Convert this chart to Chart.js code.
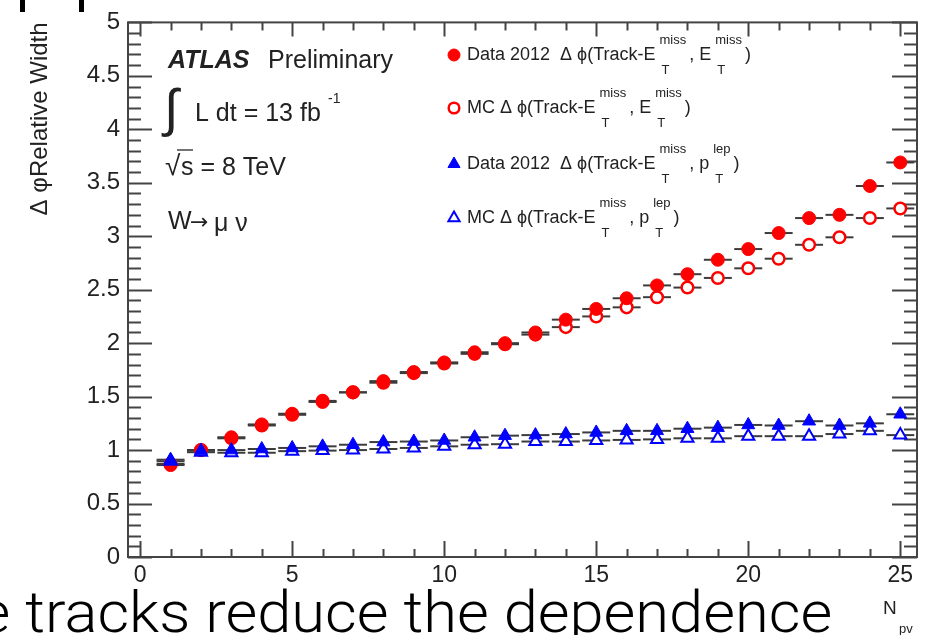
<!DOCTYPE html>
<html>
<head>
<meta charset="utf-8">
<script src="https://cdn.jsdelivr.net/npm/chart.js@4.4.1/dist/chart.umd.min.js"></script>
<style>
  html, body { margin: 0; padding: 0; background: #fff; overflow: hidden; }
  #wrap { position: relative; width: 938px; height: 635px; overflow: hidden; }
  #chart { position: absolute; left: 0; top: 0; }
  .frag { position: absolute; top: 0; width: 5px; height: 12px; background: #000; }
  #caption {
    position: absolute; right: 106px; top: 583px;
    font-family: "Roboto", "Liberation Sans", sans-serif; font-weight: 300;
    font-size: 58px; line-height: 58px; white-space: nowrap; color: #000;
    transform-origin: right center;
  }
</style>
</head>
<body>
<div id="wrap">
  <canvas id="chart" width="938" height="635"></canvas>
  <div class="frag" style="left:20px"></div>
  <div class="frag" style="left:79px"></div>
  <div id="caption">e <span id="capMain">tracks reduce the dependence</span></div>
</div>
<script>
// number of primary vertices (bin centres)
const nPV = [1, 2, 3, 4, 5, 6, 7, 8, 9, 10, 11, 12, 13, 14, 15, 16, 17, 18, 19, 20, 21, 22, 23, 24, 25];

// relative width of delta-phi
const dataMet = [0.86, 1.00, 1.12, 1.24, 1.34, 1.45, 1.54, 1.645, 1.73, 1.82, 1.915, 2.00, 2.10,
                 2.22, 2.32, 2.42, 2.54, 2.645, 2.78, 2.88, 3.03, 3.17, 3.20, 3.47, 3.69];
const mcMet   = [0.87, 1.00, 1.11, 1.23, 1.33, 1.46, 1.54, 1.63, 1.72, 1.81, 1.90, 1.99, 2.08,
                 2.15, 2.25, 2.335, 2.43, 2.52, 2.61, 2.70, 2.79, 2.92, 2.99, 3.17, 3.26];
const dataLep = [0.91, 0.995, 1.00, 1.01, 1.02, 1.035, 1.05, 1.075, 1.08, 1.09, 1.12, 1.135, 1.14,
                 1.15, 1.165, 1.18, 1.18, 1.20, 1.21, 1.235, 1.23, 1.27, 1.23, 1.25, 1.335];
const mcLep   = [0.895, 0.98, 0.975, 0.975, 0.99, 0.995, 1.00, 1.01, 1.02, 1.035, 1.05, 1.055, 1.08,
                 1.08, 1.09, 1.095, 1.10, 1.11, 1.11, 1.13, 1.13, 1.13, 1.15, 1.18, 1.14];

const xTicks = [0, 5, 10, 15, 20, 25];
const binHalf = 0.46;

const pts = arr => nPV.map((x, i) => ({ x: x, y: arr[i] }));

const legendRows = [
  { ds: 0, parts: ['Data 2012  \u0394 \u03d5(Track-E', { sup: 'miss', sub: 'T' }, ', E', { sup: 'miss', sub: 'T' }, ')'] },
  { ds: 1, parts: ['MC \u0394 \u03d5(Track-E', { sup: 'miss', sub: 'T' }, ', E', { sup: 'miss', sub: 'T' }, ')'] },
  { ds: 2, parts: ['Data 2012  \u0394 \u03d5(Track-E', { sup: 'miss', sub: 'T' }, ', p', { sup: 'lep', sub: 'T' }, ')'] },
  { ds: 3, parts: ['MC \u0394 \u03d5(Track-E', { sup: 'miss', sub: 'T' }, ', p', { sup: 'lep', sub: 'T' }, ')'] }
];
const legendY = [55, 108, 164, 218];

const FONT = '"Liberation Sans", Arial, sans-serif';
const INK = '#222';

function richText(ctx, x, y, parts, size) {
  ctx.textBaseline = 'middle';
  ctx.textAlign = 'left';
  for (const p of parts) {
    if (typeof p === 'string') {
      ctx.font = size + 'px ' + FONT;
      ctx.fillText(p, x, y);
      x += ctx.measureText(p).width;
    } else {
      ctx.font = '13px ' + FONT;
      ctx.fillText(p.sup, x + 4, y - 15);
      const w1 = ctx.measureText(p.sup).width + 4;
      ctx.fillText(p.sub, x + 6, y + 15);
      const w2 = ctx.measureText(p.sub).width + 6;
      x += Math.max(w1, w2) + 3;
    }
  }
}

// horizontal bin-width error bars, under the markers
const errorBars = {
  id: 'errorBars',
  beforeDatasetsDraw(chart) {
    const { ctx, scales: { x, y } } = chart;
    ctx.save();
    ctx.strokeStyle = '#3c3c3c';
    ctx.lineWidth = 2;
    chart.data.datasets.forEach(ds => {
      ds.data.forEach(p => {
        const py = y.getPixelForValue(p.y);
        ctx.beginPath();
        ctx.moveTo(x.getPixelForValue(p.x - binHalf), py);
        ctx.lineTo(x.getPixelForValue(p.x + binHalf), py);
        ctx.stroke();
      });
    });
    ctx.restore();
  }
};

// ROOT style frame with inward ticks on all four sides
const rootFrame = {
  id: 'rootFrame',
  beforeDatasetsDraw(chart) {
    const { ctx, chartArea: a, scales: { x, y } } = chart;
    ctx.save();
    ctx.strokeStyle = '#444';
    ctx.lineWidth = 2;
    ctx.strokeRect(a.left, a.top, a.right - a.left, a.bottom - a.top);
    ctx.beginPath();
    for (let v = 0; v <= 25; v++) {
      const px = Math.round(x.getPixelForValue(v)) + 0.5;
      const major = v % 5 === 0;
      ctx.moveTo(px, a.bottom); ctx.lineTo(px, a.bottom - (major ? 16 : 8));
      ctx.moveTo(px, a.top); ctx.lineTo(px, a.top + (major ? 14 : 8));
    }
    for (let k = 0; k <= 50; k++) {
      const py = Math.round(y.getPixelForValue(k / 10)) + 0.5;
      const major = k % 5 === 0;
      ctx.moveTo(a.left, py); ctx.lineTo(a.left + (major ? 24 : 13), py);
      ctx.moveTo(a.right, py); ctx.lineTo(a.right - (major ? 25 : 13), py);
    }
    ctx.stroke();
    ctx.restore();
  }
};

const annotations = {
  id: 'annotations',
  afterDraw(chart) {
    const { ctx } = chart;
    ctx.save();
    ctx.fillStyle = INK;
    ctx.textBaseline = 'middle';
    ctx.textAlign = 'left';

    ctx.font = 'bold italic 25px ' + FONT;
    ctx.fillText('ATLAS', 168, 61);
    ctx.font = '25px ' + FONT;
    ctx.fillText('Preliminary', 268, 61);

    ctx.font = '52px ' + FONT;
    ctx.fillText('\u222b', 164, 112);
    ctx.font = '25px ' + FONT;
    ctx.fillText('L dt = 13 fb', 195, 114);
    ctx.font = '14px ' + FONT;
    ctx.fillText('-1', 328, 99);

    ctx.font = '28px ' + FONT;
    ctx.fillText('\u221a', 165, 167);
    ctx.strokeStyle = '#444';
    ctx.lineWidth = 1.5;
    ctx.beginPath();
    ctx.moveTo(177, 150); ctx.lineTo(193, 150);
    ctx.stroke();
    ctx.font = '25px ' + FONT;
    ctx.fillText('s = 8 TeV', 181, 168);

    ctx.fillText('W', 168, 222);
    ctx.font = '22px "DejaVu Sans", sans-serif';
    ctx.fillText('\u2192', 190, 223);
    ctx.font = '25px ' + FONT;
    ctx.fillText('\u03bc \u03bd', 214, 224);

    // legend
    legendRows.forEach((row, i) => {
      const ds = chart.data.datasets[row.ds];
      ctx.fillStyle = ds.backgroundColor;
      ctx.strokeStyle = ds.borderColor;
      ctx.lineWidth = ds.borderWidth;
      Chart.helpers.drawPoint(ctx, { pointStyle: ds.pointStyle, radius: ds.pointRadius - 0.5, borderWidth: ds.borderWidth, rotation: 0 }, 454, legendY[i]);
      ctx.fillStyle = INK;
      richText(ctx, 467, legendY[i], row.parts, 18);
    });

    // x axis title
    ctx.fillStyle = INK;
    ctx.font = '19px ' + FONT;
    ctx.fillText('N', 883, 609);
    ctx.font = '13px ' + FONT;
    ctx.fillText('pv', 899, 629);
    ctx.restore();
  }
};

new Chart(document.getElementById('chart'), {
  type: 'scatter',
  data: {
    datasets: [
      { label: 'Data 2012 MET', data: pts(dataMet), pointStyle: 'circle', pointRadius: 6.5, borderWidth: 1,
        backgroundColor: '#ff0000', borderColor: '#ff0000', order: 3 },
      { label: 'MC MET', data: pts(mcMet), pointStyle: 'circle', pointRadius: 5.8, borderWidth: 2.5,
        backgroundColor: '#ffffff', borderColor: '#ff0000', order: 4 },
      { label: 'Data 2012 lep', data: pts(dataLep), pointStyle: 'triangle', pointRadius: 7.5, borderWidth: 1,
        backgroundColor: '#0000ff', borderColor: '#0000ff', order: 1 },
      { label: 'MC lep', data: pts(mcLep), pointStyle: 'triangle', pointRadius: 7, borderWidth: 2,
        backgroundColor: '#ffffff', borderColor: '#0000ff', order: 2 }
    ]
  },
  options: {
    responsive: false,
    animation: false,
    devicePixelRatio: 1,
    layout: { padding: { left: 0, right: 21, top: 21, bottom: 0 } },
    plugins: { legend: { display: false }, tooltip: { enabled: false } },
    elements: { point: { hoverRadius: 0 } },
    scales: {
      x: {
        type: 'linear', min: -0.4, max: 25.55,
        border: { display: false },
        grid: { display: false, drawTicks: false },
        afterBuildTicks: s => { s.ticks = xTicks.map(v => ({ value: v })); },
        afterFit: s => { s.height = 78; },
        ticks: { padding: 5, color: INK, font: { family: FONT, size: 23 }, maxRotation: 0, autoSkip: false,
                 callback: v => String(v) }
      },
      y: {
        type: 'linear', min: 0, max: 5,
        border: { display: false },
        grid: { display: false, drawTicks: false },
        afterFit: s => { s.width = 128; },
        ticks: { stepSize: 0.5, padding: 8, color: INK, font: { family: FONT, size: 24 },
                 callback: v => String(Math.round(v * 10) / 10) },
        title: { display: true, text: '\u0394 \u03c6Relative Width', align: 'end', color: INK,
                 font: { family: FONT, size: 24 }, padding: { top: 26, bottom: 0 } }
      }
    }
  },
  plugins: [errorBars, rootFrame, annotations]
});

// fit the slide caption so that "tracks ... dependence" spans its place
const cap = document.getElementById('caption');
const w = document.getElementById('capMain').getBoundingClientRect().width;
cap.style.transform = 'scaleX(' + ((832 - 25) / w).toFixed(4) + ')';
</script>
</body>
</html>
